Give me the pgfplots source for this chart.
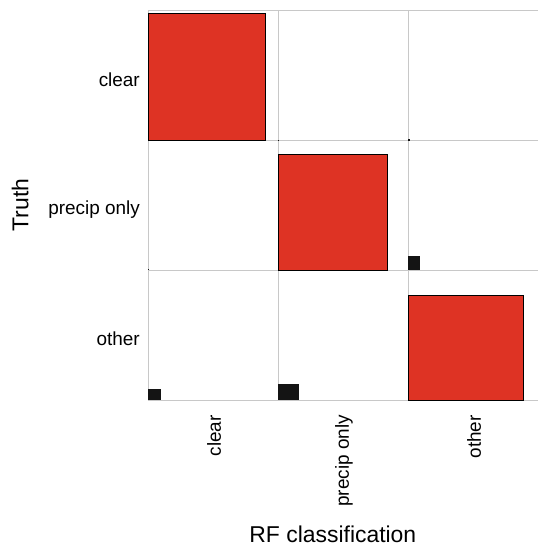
\documentclass[border=0pt]{standalone}
\usepackage{pgfplots}
\pgfplotsset{compat=1.18}
\usepackage{fontspec}
\setmainfont{Liberation Sans}
\definecolor{cellred}{RGB}{222,51,36}
\definecolor{cellblack}{RGB}{20,20,20}
\definecolor{gridgray}{RGB}{200,200,200}
\begin{document}
\begin{tikzpicture}
\begin{axis}[
  at={(148bp,147bp)}, anchor=south west,
  scale only axis, width=390bp, height=389bp,
  xmin=0, xmax=3, ymin=0, ymax=3,
  clip=false,
  axis line style={gridgray, line width=1bp},
  major tick length=0pt,
  xtick={0.5,1.5,2.5},
  xticklabels={clear, precip only, other},
  ytick={0.5,1.5,2.5},
  yticklabels={other, precip only, clear},
  extra x ticks={1,2}, extra x tick labels={},
  extra y ticks={1,2}, extra y tick labels={},
  extra tick style={grid=major, major grid style={gridgray, line width=1bp}},
  xticklabel style={font=\fontsize{19}{22}\selectfont, yshift=-15bp, xshift=1bp, rotate=90, anchor=east, inner sep=0pt},
  yticklabel style={font=\fontsize{19}{22}\selectfont, anchor=east, inner sep=0pt, xshift=-8bp, yshift=-4bp},
  xlabel={RF classification},
  ylabel={Truth},
  xlabel style={font=\fontsize{23}{26}\selectfont, at={(axis description cs:0.474,-0.366)}, anchor=base},
  ylabel style={font=\fontsize{23}{26}\selectfont, at={(axis description cs:-0.328,0.501)}, anchor=center, rotate=0},
]
% red diagonal cells
\addplot[draw=black, line width=1bp, fill=cellred] coordinates {(0,2) (0.904,2) (0.904,2.977) (0,2.977)} -- cycle;
\addplot[draw=black, line width=1bp, fill=cellred] coordinates {(1,1) (1.846,1) (1.846,1.890) (1,1.890)} -- cycle;
\addplot[draw=black, line width=1bp, fill=cellred] coordinates {(2,0) (2.892,0) (2.892,0.808) (2,0.808)} -- cycle;
% black off-diagonal cells
\addplot[draw=none, fill=cellblack] coordinates {(1,2) (1.008,2) (1.008,2.008) (1,2.008)} -- cycle;
\addplot[draw=none, fill=cellblack] coordinates {(2,2) (2.015,2) (2.015,2.015) (2,2.015)} -- cycle;
\addplot[draw=none, fill=cellblack] coordinates {(0,1) (0.010,1) (0.010,1.010) (0,1.010)} -- cycle;
\addplot[draw=none, fill=cellblack] coordinates {(2,1) (2.095,1) (2.095,1.108) (2,1.108)} -- cycle;
\addplot[draw=none, fill=cellblack] coordinates {(0,0) (0.098,0) (0.098,0.082) (0,0.082)} -- cycle;
\addplot[draw=none, fill=cellblack] coordinates {(1,0) (1.159,0) (1.159,0.125) (1,0.125)} -- cycle;
\end{axis}
\pgfresetboundingbox
\useasboundingbox (0,0) rectangle (538bp,547bp);
\end{tikzpicture}
\end{document}
